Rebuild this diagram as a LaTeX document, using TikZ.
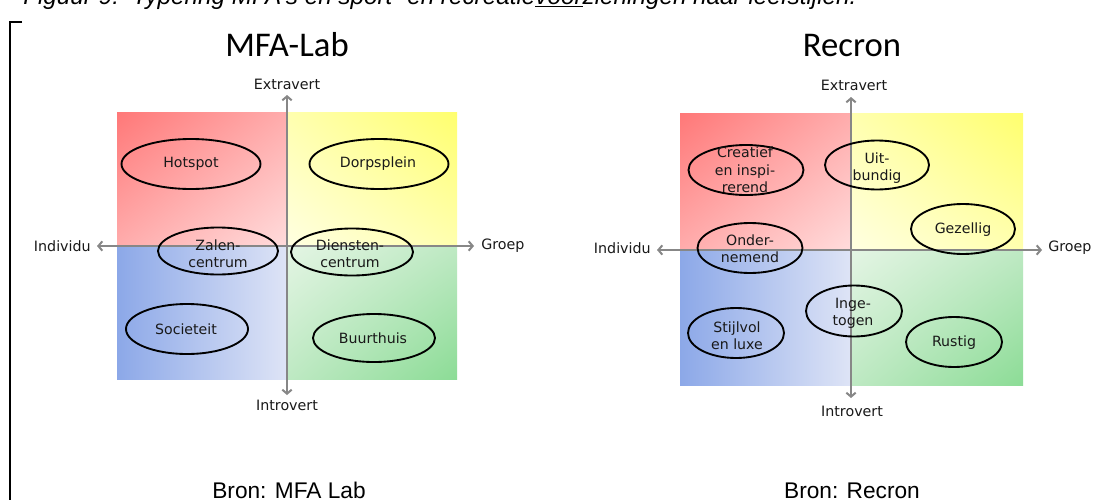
\documentclass[tikz,border=0pt]{standalone}
\usepackage{fontspec}
\setmainfont{DejaVu Sans}
\newfontfamily\titlefont{Liberation Sans}
\newfontfamily\headfont{Carlito}
\usetikzlibrary{arrows.meta,shapes.geometric,shadings}
\definecolor{tlA}{RGB}{255,120,120}
\definecolor{tlB}{RGB}{255,172,172}
\definecolor{tlC}{RGB}{255,220,220}
\definecolor{trA}{RGB}{255,255,110}
\definecolor{trB}{RGB}{255,255,175}
\definecolor{trC}{RGB}{255,255,225}
\definecolor{blL}{RGB}{140,168,232}
\definecolor{blR}{RGB}{222,228,246}
\definecolor{brA}{RGB}{140,220,150}
\definecolor{brB}{RGB}{190,233,195}
\definecolor{brC}{RGB}{228,245,228}
\definecolor{axisgray}{RGB}{135,135,135}
\definecolor{ink}{RGB}{25,25,25}
\tikzset{
  axisline/.style={draw=axisgray, line width=1.5pt, {Straight Barb[length=3pt,width=7pt]}-{Straight Barb[length=3pt,width=7pt]}},
  blob/.style 2 args={shape=ellipse, draw=black, line width=1.4pt, inner sep=0pt, minimum width=#1*0.75pt, minimum height=#2*0.75pt},
  lbl/.style={font=\fontsize{10.6}{13}\selectfont, align=center, text=ink, inner sep=0pt},
  axlbl/.style={font=\fontsize{10.7}{12}\selectfont, text=ink, inner sep=0pt},
  head/.style={font=\headfont\fontsize{26}{28}\selectfont, text=black, inner sep=0pt},
  bron/.style={font=\titlefont\fontsize{17}{20}\selectfont, text=black, inner sep=0pt, anchor=base},
}
\begin{document}
\begin{tikzpicture}[x=0.75pt,y=-0.75pt]
\useasboundingbox (0,0) rectangle (1117,500);
\clip (0,0) rectangle (1117,500);
\fill[white] (0,0) rectangle (1117,500);

% caption (cut off at top)
\node[anchor=base west, font=\titlefont\itshape\fontsize{18.2}{20}\selectfont, inner sep=0pt] (caption) at (23,4)
  {Figuur 9:~~Typering MFA's en sport- en recreatie\underline{voor}zieningen naar leefstijlen.};

% frame corner
\draw[line width=1.5pt] (22,22) -- (10,22) -- (10,500);

% ===== MFA-Lab =====
\node[head] (mfaT) at (287,45) {MFA-Lab};
\shade[upper left=tlA, upper right=tlB, lower left=tlB, lower right=tlC] (117,112) rectangle (287,246);
\shade[upper left=trB, upper right=trA, lower left=trC, lower right=trB] (287,112) rectangle (457,246);
\shade[left color=blL, right color=blR] (117,246) rectangle (287,379);
\shade[upper left=brC, upper right=brB, lower left=brB, lower right=brA] (287,246) rectangle (457,379);

\coordinate (mL) at (97,246);
\coordinate (mR) at (474,246);
\coordinate (mU) at (287,95);
\coordinate (mD) at (287,395);
\draw[axisline] (mL) -- (mR);
\draw[axisline] (mU) -- (mD);
\node[axlbl, anchor=east] (mInd) at (91,246) {Individu};
\node[axlbl, anchor=west] (mGrp) at (481,246) {Groep};
\node[axlbl] (mExt) at (287,84) {Extravert};
\node[axlbl] (mInt) at (287,405) {Introvert};

\node[blob={139}{50}] (hot) at (191,164) {};
\node[blob={139}{50}] (dorp) at (379,164) {};
\node[blob={120}{47}] (zalen) at (218,251) {};
\node[blob={122}{47}] (dienst) at (352,252) {};
\node[blob={122}{50}] (soc) at (187,329) {};
\node[blob={122}{48}] (buurt) at (374,338) {};

\node[lbl] (hotT) at (191,164) {Hotspot};
\node[lbl] (dorpT) at (378,164) {Dorpsplein};
\node[lbl] (zalenT) at (218,254) {Zalen-\\centrum};
\node[lbl] (dienstT) at (350,254) {Diensten-\\centrum};
\node[lbl] (socT) at (186,329) {Societeit};
\node[lbl] (buurtT) at (373,338) {Buurthuis};

\node[bron] (mBron) at (289,498) {Bron: MFA Lab};

% ===== Recron =====
\node[head] (recT) at (852,45) {Recron};
\shade[upper left=tlA, upper right=tlB, lower left=tlB, lower right=tlC] (680,113) rectangle (851,250);
\shade[upper left=trB, upper right=trA, lower left=trC, lower right=trB] (851,113) rectangle (1023,250);
\shade[left color=blL, right color=blR] (680,250) rectangle (851,385);
\shade[upper left=brC, upper right=brB, lower left=brB, lower right=brA] (851,250) rectangle (1023,385);

\coordinate (rL) at (657,250);
\coordinate (rR) at (1042,250);
\coordinate (rU) at (851,97);
\coordinate (rD) at (851,398);
\draw[axisline] (rL) -- (rR);
\draw[axisline] (rU) -- (rD);
\node[axlbl, anchor=east] (rInd) at (651,248) {Individu};
\node[axlbl, anchor=west] (rGrp) at (1048,248) {Groep};
\node[axlbl] (rExt) at (854,85) {Extravert};
\node[axlbl] (rInt) at (852,411) {Introvert};

\node[blob={115}{50}] (crea) at (746,170) {};
\node[blob={104}{49}] (uit) at (877,165) {};
\node[blob={104}{50}] (gez) at (963,229) {};
\node[blob={105}{50}] (onder) at (750,248) {};
\node[blob={96}{51}] (inge) at (854,311) {};
\node[blob={96}{50}] (stijl) at (736,333) {};
\node[blob={96}{50}] (rust) at (954,342) {};

\node[lbl] (creaT) at (745,170) {Creatief\\en inspi-\\rerend};
\node[lbl] (uitT) at (877,168) {Uit-\\bundig};
\node[lbl] (gezT) at (963,230) {Gezellig};
\node[lbl] (onderT) at (750,249) {Onder-\\nemend};
\node[lbl] (ingeT) at (853,313) {Inge-\\togen};
\node[lbl] (stijlT) at (737,336) {Stijlvol\\en luxe};
\node[lbl] (rustT) at (954,343) {Rustig};

\node[bron] (rBron) at (852,498) {Bron: Recron};
\end{tikzpicture}
\end{document}
